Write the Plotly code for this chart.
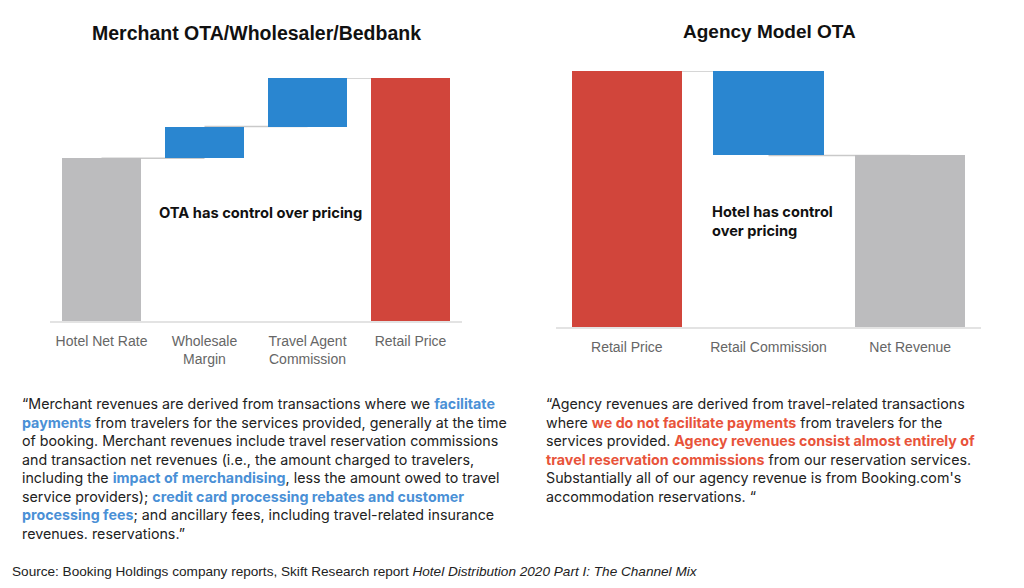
import plotly.graph_objects as go

# ---- data ----
merchant_cats = ["Hotel Net Rate", "Wholesale<br>Margin", "Travel Agent<br>Commission", "Retail Price"]
merchant_vals = [67, 13, 20, 100]
merchant_kind = ["absolute", "relative", "relative", "total"]

agency_cats = ["Retail Price", "Retail Commission", "Net Revenue"]
agency_vals = [100, -33, 67]
agency_kind = ["total", "relative", "absolute"]

RED = "#d1453b"
BLUE = "#2a86d0"
GRAY = "#bcbcbe"
HL_BLUE = "#4a90d6"
HL_RED = "#e8533a"


def bases_and_heights(vals, kinds):
    bases, heights, levels = [], [], []
    level = 0
    for v, k in zip(vals, kinds):
        if k in ("absolute", "total"):
            bases.append(0)
            heights.append(v)
            level = v
        else:
            if v >= 0:
                bases.append(level)
                heights.append(v)
            else:
                bases.append(level + v)
                heights.append(-v)
            level = level + v
        levels.append(level)
    return bases, heights, levels


def colors_for(kinds, first_color, last_color):
    cols = []
    for i, k in enumerate(kinds):
        if k == "relative":
            cols.append(BLUE)
        elif i == 0:
            cols.append(first_color)
        else:
            cols.append(last_color)
    return cols


m_base, m_h, m_lvl = bases_and_heights(merchant_vals, merchant_kind)
a_base, a_h, a_lvl = bases_and_heights(agency_vals, agency_kind)

fig = go.Figure()
fig.add_trace(go.Bar(x=merchant_cats, y=m_h, base=m_base,
                     marker=dict(color=colors_for(merchant_kind, GRAY, RED), line_width=0),
                     width=0.77, xaxis="x", yaxis="y", showlegend=False))
fig.add_trace(go.Bar(x=agency_cats, y=a_h, base=a_base,
                     marker=dict(color=colors_for(agency_kind, RED, GRAY), line_width=0),
                     width=0.78, xaxis="x2", yaxis="y2", showlegend=False))

shapes = []
for i in range(len(merchant_cats) - 1):
    shapes.append(dict(type="line", xref="x", yref="y", x0=i, x1=i + 1, y0=m_lvl[i], y1=m_lvl[i],
                       line=dict(color="#c9c9c9", width=1.5), layer="below"))
for i in range(len(agency_cats) - 1):
    shapes.append(dict(type="line", xref="x2", yref="y2", x0=i, x1=i + 1, y0=a_lvl[i], y1=a_lvl[i],
                       line=dict(color="#c9c9c9", width=1.5), layer="below"))

W, H = 1024, 588
FONT = "Liberation Sans, Arial, sans-serif"
TFONT = "Inter, Liberation Sans, Arial, sans-serif"

axis_common = dict(showgrid=False, zeroline=False, ticks="", showline=True, linecolor="#e3e3e3",
                   linewidth=1.5, tickfont=dict(family=FONT, size=14, color="#666666"),
                   ticklabelstandoff=6, fixedrange=True)

left_text = ("“Merchant revenues are derived from transactions where we <b><span style='color:%s'>facilitate<br>"
             "payments</span></b> from travelers for the services provided, generally at the time<br>"
             "of booking. Merchant revenues include travel reservation commissions<br>"
             "and transaction net revenues (i.e., the amount charged to travelers,<br>"
             "including the <b><span style='color:%s'>impact of merchandising</span></b>, less the amount owed to travel<br>"
             "service providers); <b><span style='color:%s'>credit card processing rebates and customer<br>"
             "processing fees</span></b>; and ancillary fees, including travel-related insurance<br>"
             "revenues. reservations.”") % (HL_BLUE, HL_BLUE, HL_BLUE)

right_text = ("“Agency revenues are derived from travel-related transactions<br>"
              "where <b><span style='color:%s'>we do not facilitate payments</span></b> from travelers for the<br>"
              "services provided. <b><span style='color:%s'>Agency revenues consist almost entirely of<br>"
              "travel reservation commissions</span></b> from our reservation services.<br>"
              "Substantially all of our agency revenue is from Booking.com's<br>"
              "accommodation reservations. “") % (HL_RED, HL_RED)

annotations = [
    dict(text="<b>Merchant OTA/Wholesaler/Bedbank</b>", xref="paper", yref="paper",
         x=256 / W, y=1 - 33 / H, xanchor="center", yanchor="middle", showarrow=False,
         font=dict(family=FONT, size=19.5, color="#111111")),
    dict(text="<b>Agency Model OTA</b>", xref="paper", yref="paper",
         x=769 / W, y=1 - 32 / H, xanchor="center", yanchor="middle", showarrow=False,
         font=dict(family=FONT, size=19, color="#111111")),
    dict(text="<b>OTA has control over pricing</b>", xref="paper", yref="paper",
         x=157 / W, y=1 - 213 / H, xanchor="left", yanchor="middle", showarrow=False,
         font=dict(family=TFONT, size=14.7, color="#111111")),
    dict(text="<b>Hotel has control<br>over pricing</b>", xref="paper", yref="paper",
         x=710 / W, y=1 - 222 / H, xanchor="left", yanchor="middle", showarrow=False, align="left",
         font=dict(family=TFONT, size=14.6, color="#111111")),
    dict(text=left_text, xref="paper", yref="paper",
         x=20 / W, y=1 - 393 / H, xanchor="left", yanchor="top", showarrow=False, align="left",
         font=dict(family=TFONT, size=14.25, color="#222222")),
    dict(text=right_text, xref="paper", yref="paper",
         x=544 / W, y=1 - 393 / H, xanchor="left", yanchor="top", showarrow=False, align="left",
         font=dict(family=TFONT, size=14.25, color="#222222")),
    dict(text="Source: Booking Holdings company reports, Skift Research report <i>Hotel Distribution 2020 Part I: The Channel Mix</i>",
         xref="paper", yref="paper", x=10 / W, y=1 - 571 / H, xanchor="left", yanchor="middle",
         showarrow=False, font=dict(family=FONT, size=13.6, color="#222222")),
]

fig.update_layout(
    width=W, height=H, margin=dict(l=0, r=0, t=0, b=0),
    paper_bgcolor="white", plot_bgcolor="white",
    xaxis=dict(domain=[50 / W, 462 / W], anchor="y", range=[-0.5, 3.5], **axis_common),
    yaxis=dict(domain=[1 - 321 / H, 1 - 78 / H], anchor="x", range=[0, 100], visible=False, fixedrange=True),
    xaxis2=dict(domain=[556 / W, 981 / W], anchor="y2", range=[-0.5, 2.5], **axis_common),
    yaxis2=dict(domain=[1 - 327 / H, 1 - 71 / H], anchor="x2", range=[0, 100], visible=False, fixedrange=True),
    shapes=shapes, annotations=annotations, bargap=0,
)

fig.write_html("out.html", config={"displayModeBar": False})
